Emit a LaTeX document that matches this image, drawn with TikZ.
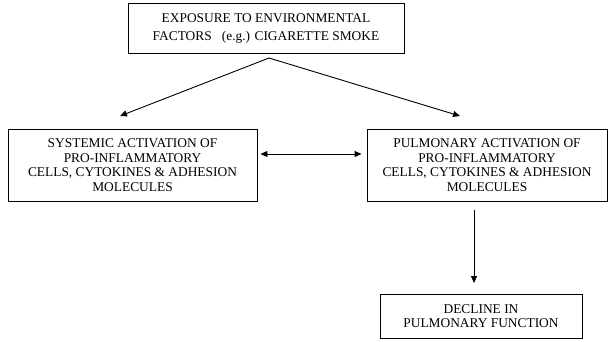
\documentclass[tikz,border=0pt]{standalone}
\usepackage{fontspec}
\setmainfont{Liberation Serif}
\usetikzlibrary{arrows.meta}
\begin{document}
\begin{tikzpicture}[x=1pt,y=-1pt,
  box/.style={draw,line width=0.9pt,align=center,inner sep=0pt,font=\fontsize{13.4}{14.7}\selectfont},
  arr/.style={line width=0.9pt,-{Triangle[length=7pt,width=6pt]}},
  darr/.style={line width=0.9pt,{Triangle[length=7pt,width=6pt]}-{Triangle[length=7pt,width=6pt]}}]
\useasboundingbox (0,0) rectangle (612,341);
\node[box,minimum width=276pt,minimum height=50pt,font=\fontsize{13.4}{17.5}\selectfont] (top) at (266,28.5) {EXPOSURE TO ENVIRONMENTAL\\FACTORS \ \ (e.g.) CIGARETTE SMOKE};
\node[box,minimum width=249pt,minimum height=72pt] (sys) at (132.5,165) {SYSTEMIC ACTIVATION OF\\PRO-INFLAMMATORY\\CELLS, CYTOKINES \& ADHESION\\MOLECULES};
\node[box,minimum width=240pt,minimum height=72pt] (pul) at (487,165) {PULMONARY ACTIVATION OF\\PRO-INFLAMMATORY\\CELLS, CYTOKINES \& ADHESION\\MOLECULES};
\node[box,minimum width=202pt,minimum height=44pt] (dec) at (481,316) {DECLINE IN\\PULMONARY FUNCTION};
\coordinate (apex) at (269,58);
\coordinate (lt) at (120,116);
\coordinate (rt) at (460,116);
\draw[arr] (apex) -- (lt);
\draw[arr] (apex) -- (rt);
\draw[darr] ([xshift=3pt]sys.east |- 0,154) -- ([xshift=-5pt]pul.west |- 0,154);
\draw[arr] (474,210) -- (474,283);
\end{tikzpicture}
\end{document}
